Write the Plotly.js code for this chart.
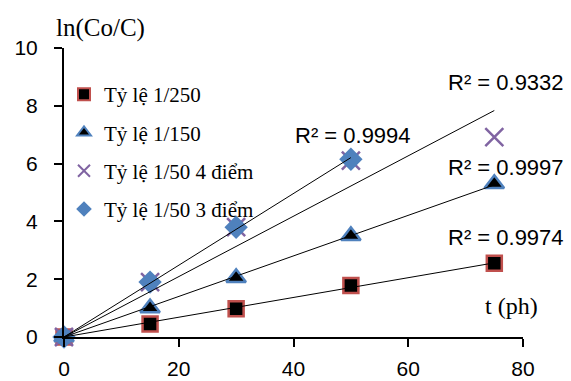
<!DOCTYPE html>
<html>
<head>
<meta charset="utf-8">
<script src="https://cdn.plot.ly/plotly-3.0.1.min.js"></script>
<style>html,body{margin:0;padding:0;background:#fff;}#chart{width:571px;height:381px;}</style>
</head>
<body>
<div id="chart"></div>
<script>
// Data
const tAll = [0, 15, 30, 50, 75];
const t3 = [0, 15, 30, 50];
const y250 = [0, 0.45, 0.98, 1.78, 2.55];
const y150 = [0, 1.0, 2.05, 3.5, 5.3];
const y50four = [0, 1.9, 3.8, 6.1, 6.92];
const y50three = [0, 1.9, 3.8, 6.15];
const seriesNames = ["Tỷ lệ 1/250", "Tỷ lệ 1/150", "Tỷ lệ 1/50 4 điểm", "Tỷ lệ 1/50 3 điểm"];
const r2Labels = ["R² = 0.9974", "R² = 0.9997", "R² = 0.9332", "R² = 0.9994"];
const xTicks = [0, 20, 40, 60, 80];
const yTicks = [0, 2, 4, 6, 8, 10];

// Linear trendline through origin (least squares)
function fitLine(xs, ys) {
  let sxy = 0, sxx = 0;
  for (let i = 0; i < xs.length; i++) { sxy += xs[i] * ys[i]; sxx += xs[i] * xs[i]; }
  const k = sxy / sxx;
  const x0 = Math.min(...xs), x1 = Math.max(...xs);
  return { x: [x0, x1], y: [k * x0, k * x1] };
}

const markerTraces = [
  { x: tAll, y: y250, name: seriesNames[0], legendgroup: "a", mode: "markers", type: "scatter", cliponaxis: false,
    marker: { symbol: "square", size: 15, color: "#000000", line: { color: "#c0504d", width: 2.5 } } },
  { x: tAll, y: y150, name: seriesNames[1], legendgroup: "b", mode: "markers", type: "scatter", cliponaxis: false,
    marker: { symbol: "triangle-up", size: 17, color: "#000000", line: { color: "#4f81bd", width: 2.5 } } },
  { x: tAll, y: y50four, name: seriesNames[2], legendgroup: "c", mode: "markers", type: "scatter", cliponaxis: false,
    marker: { symbol: "x-thin-open", size: 18, color: "#8064a2", line: { color: "#8064a2", width: 2.5 } } },
  { x: t3, y: y50three, name: seriesNames[3], legendgroup: "d", mode: "markers", type: "scatter", cliponaxis: false,
    marker: { symbol: "diamond", size: 18, color: "#4f81bd", line: { width: 0 } } }
];

const fits = [fitLine(tAll, y250), fitLine(tAll, y150), fitLine(tAll, y50four), fitLine(t3, y50three)];
const lineTraces = fits.map(f => ({
  x: f.x, y: f.y, mode: "lines", type: "scatter", showlegend: false, hoverinfo: "skip", cliponaxis: false,
  line: { color: "#000000", width: 1 }
}));

const annFont = { family: "Liberation Sans, Arial, sans-serif", size: 22, color: "#000" };
const serif = "Liberation Serif, Times New Roman, serif";

const layout = {
  width: 571, height: 381,
  paper_bgcolor: "#ffffff", plot_bgcolor: "#ffffff",
  margin: { l: 64, r: 48, t: 48, b: 44 },
  showlegend: true,
  legend: {
    x: 0.0, y: 0.91, xanchor: "left", yanchor: "top",
    bgcolor: "rgba(0,0,0,0)", borderwidth: 0,
    font: { family: serif, size: 21, color: "#000" },
    tracegroupgap: 8, traceorder: "grouped", itemsizing: "constant"
  },
  xaxis: {
    range: [0, 80], tickvals: xTicks, ticktext: xTicks.map(String),
    showgrid: false, zeroline: false, showline: true, linecolor: "#000", linewidth: 2,
    ticks: "outside", ticklen: 8, tickwidth: 2, tickcolor: "#000",
    tickfont: { family: "Liberation Sans, Arial, sans-serif", size: 21, color: "#000" },
    ticklabelstandoff: 4, fixedrange: true
  },
  yaxis: {
    range: [0, 10], tickvals: yTicks, ticktext: yTicks.map(String),
    showgrid: false, zeroline: false, showline: true, linecolor: "#000", linewidth: 2,
    ticks: "outside", ticklen: 8, tickwidth: 2, tickcolor: "#000",
    tickfont: { family: "Liberation Sans, Arial, sans-serif", size: 21, color: "#000" },
    ticklabelstandoff: 12, fixedrange: true
  },
  annotations: [
    { text: r2Labels[2], xref: "paper", yref: "paper", x: 0.963, y: 0.879, showarrow: false, font: annFont, xanchor: "center", yanchor: "middle" },
    { text: r2Labels[3], xref: "paper", yref: "paper", x: 0.630, y: 0.696, showarrow: false, font: annFont, xanchor: "center", yanchor: "middle" },
    { text: r2Labels[1], xref: "paper", yref: "paper", x: 0.963, y: 0.588, showarrow: false, font: annFont, xanchor: "center", yanchor: "middle" },
    { text: r2Labels[0], xref: "paper", yref: "paper", x: 0.963, y: 0.343, showarrow: false, font: annFont, xanchor: "center", yanchor: "middle" },
    { text: "t (ph)", xref: "paper", yref: "paper", x: 0.974, y: 0.107, showarrow: false, font: { family: serif, size: 24, color: "#000" }, xanchor: "center", yanchor: "middle" },
    { text: "ln(Co/C)", xref: "paper", yref: "paper", x: -0.022, y: 1.069, showarrow: false, font: { family: serif, size: 25, color: "#000" }, xanchor: "left", yanchor: "middle" }
  ]
};

Plotly.newPlot("chart", markerTraces.concat(lineTraces), layout, { displayModeBar: false, staticPlot: true });
</script>
</body>
</html>
